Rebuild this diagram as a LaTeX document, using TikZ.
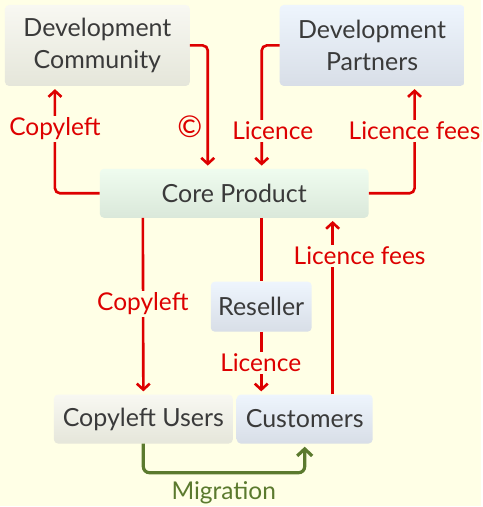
\documentclass[tikz,border=0pt]{standalone}
\usepackage{fontspec}
\setmainfont{Lato}
\usetikzlibrary{arrows.meta}
\definecolor{bgyellow}{HTML}{FFFFE6}
\definecolor{linkred}{HTML}{DD0000}
\definecolor{migrgreen}{HTML}{5B7A2E}
\definecolor{boxtext}{HTML}{3A3A3A}
\definecolor{greytop}{HTML}{F8F8F2}
\definecolor{greybot}{HTML}{E5E6DA}
\definecolor{bluetop}{HTML}{EEF5FD}
\definecolor{bluebot}{HTML}{D8DEE7}
\definecolor{greentop}{HTML}{EFFCEF}
\definecolor{greenbot}{HTML}{DAE8DA}
\tikzset{
	box/.style={rounded corners=4pt, align=center, text=boxtext, inner sep=0pt,
		font=\fontsize{25}{32}\selectfont},
	greybox/.style={box, top color=greytop, bottom color=greybot},
	bluebox/.style={box, top color=bluetop, bottom color=bluebot},
	greenbox/.style={box, top color=greentop, bottom color=greenbot},
	redlink/.style={draw=linkred, line width=2.6pt, rounded corners=5pt,
		-{Straight Barb[length=6pt,width=13pt]}, shorten >=3pt},
	plainlink/.style={draw=linkred, line width=2.6pt},
	greenlink/.style={draw=migrgreen, line width=3.2pt, rounded corners=6pt,
		-{Straight Barb[length=7pt,width=15pt]}, shorten >=3pt},
	redlabel/.style={text=linkred, fill=bgyellow, inner sep=2pt,
		font=\fontsize{24.5}{26}\selectfont},
}
\begin{document}
\begin{tikzpicture}[x=1pt,y=-1pt]
	\fill[bgyellow] (0,0) rectangle (482,507);
	% boxes
	\node[greybox, minimum width=185pt, minimum height=81pt] (devcom) at (97.5,45.5) {Development\\Community};
	\node[bluebox, minimum width=185pt, minimum height=81pt] (devpart) at (372.5,45.5) {Development\\Partners};
	\node[greenbox, minimum width=269pt, minimum height=49pt] (core) at (234.5,193.5) {Core Product};
	\node[bluebox, minimum width=101pt, minimum height=50pt] (reseller) at (261.5,307) {Reseller};
	\node[greybox, minimum width=179pt, minimum height=49pt] (cusers) at (143.5,419.5) {Copyleft Users};
	\node[bluebox, minimum width=136pt, minimum height=49pt] (customers) at (305,419.5) {Customers};
	% links
	\draw[redlink] (devcom.east) -| ([xshift=-26.5pt]core.north);
	\draw[redlink] (devpart.west) -| ([xshift=27.5pt]core.north);
	\draw[redlink] (core.west) -| ([xshift=-42.5pt]devcom.south);
	\draw[redlink] (core.east) -| ([xshift=42.5pt]devpart.south);
	\draw[redlink] ([xshift=-91.5pt]core.south) -- (cusers.north);
	\draw[plainlink] ([xshift=27pt]core.south) -- (reseller.north);
	\draw[redlink] (reseller.south) -- (reseller.south |- customers.north);
	\draw[redlink] ([xshift=28pt]customers.north) -- ([xshift=98.5pt]core.south);
	\draw[greenlink] (cusers.south) -- ++(0,29) -| (customers.south);
	% labels
	\node[redlabel] at (55,129) {Copyleft};
	\node[text=linkred, font=\fontsize{30}{30}\selectfont] at (190,127) {©};
	\node[redlabel] at (273,131) {Licence};
	\node[redlabel] at (415,131) {Licence fees};
	\node[redlabel] at (143,304) {Copyleft};
	\node[redlabel] at (261,363) {Licence};
	\node[redlabel] at (360,256) {Licence fees};
	\node[text=migrgreen, font=\fontsize{24.5}{26}\selectfont] at (224,493) {Migration};
\end{tikzpicture}
\end{document}
